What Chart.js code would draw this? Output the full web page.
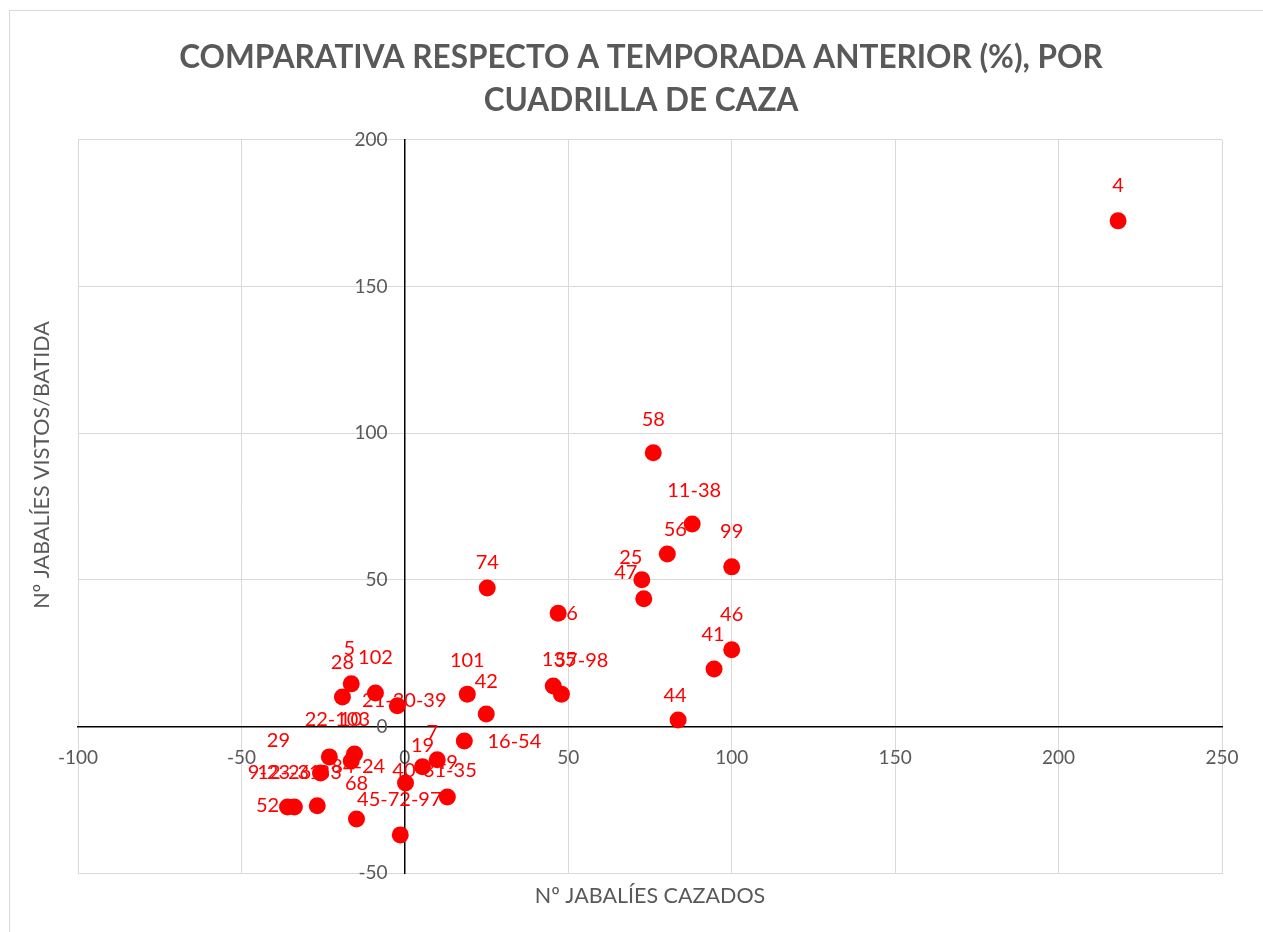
<!DOCTYPE html>
<html><head><meta charset="utf-8">
<script src="https://cdn.jsdelivr.net/npm/chart.js@4.4.0/dist/chart.umd.min.js"></script>
<style>
html,body{margin:0;padding:0;background:#fff;overflow:hidden}
#wrap{position:relative;width:1263px;height:932px;overflow:hidden}
#frame{position:absolute;left:9px;top:10px;width:1400px;height:1200px;border:1px solid #d9d9d9;box-sizing:border-box}
canvas{position:absolute;left:0;top:0}
</style></head><body>
<div id="wrap"><div id="frame"></div><canvas id="c" width="1263" height="932"></canvas></div>
<script>
// ---- data ----
const cuadrillas = ['4','58','11-38','56','99','25','47','74','6','46','41','135','57-98','44','101','42','16-54','7','19','40-31-35','49','45-72-97','68','5','28','102','21-30-39','22-103','10','84-24','12-26-33','9-23-31','29','52'];
const cazados = [218.2,76.0,87.9,80.3,100,72.5,73.1,25.2,46.9,100,94.6,45.4,47.9,83.6,19.1,24.9,18.2,9.9,5.4,0.2,13.0,-1.4,-14.8,-16.4,-19.1,-9.0,-2.3,-23.1,-15.4,-16.4,-25.8,-26.8,-33.8,-35.9];
const vistos = [172.4,93.3,69.0,58.8,54.4,50.0,43.5,47.2,38.6,26.1,19.6,13.8,11.0,2.2,11.0,4.2,-5.0,-11.4,-13.8,-19.3,-24.1,-37.0,-31.6,14.5,10.0,11.4,7.0,-10.4,-9.4,-11.8,-15.9,-27.1,-27.5,-27.5];
const xMin = -100, xMax = 250, xStep = 50;
const yMin = -50, yMax = 200, yStep = 50;
const titleLines = ['COMPARATIVA RESPECTO A TEMPORADA ANTERIOR (%), POR', 'CUADRILLA DE CAZA'];
const xTitle = 'Nº JABALÍES CAZADOS';
const yTitle = 'Nº JABALÍES VISTOS/BATIDA';

// ---- label placement (pixel offsets from each marker) ----
const labelOffsets = [[0,-35],[0,-33],[2,-34],[8,-24],[0,-35],[-11,-22],[-18,-26],[0,-25],[14,0],[0,-35],[-1,-34],[6,-26],[20,-34],[-3,-24],[0,-34],[0,-33],[50,0],[-5,-27],[0,-21],[29,-12],[-1,-35],[-1,-35],[0,-35],[-2,-35],[0,-35],[0,-35],[7,-5],[8,-37],[-4,-34],[7,6],[-21,0],[-33,-33],[-16,-66],[-20,-1]];

const GRID = '#d9d9d9', TXT = '#595959', RED = '#ff0000';
const FONT = 'Lato';

const pointLabels = {
  id: 'pointLabels',
  beforeDatasetsDraw(chart) {
    const meta = chart.getDatasetMeta(0);
    const ctx = chart.ctx;
    ctx.save();
    ctx.font = '20px ' + FONT;
    ctx.fillStyle = RED;
    ctx.textAlign = 'center';
    ctx.textBaseline = 'middle';
    meta.data.forEach((pt, i) => {
      const o = labelOffsets[i] || [0, -35];
      ctx.fillText(cuadrillas[i], pt.x + o[0], pt.y + o[1]);
    });
    ctx.restore();
  }
};

// y-axis title, placed as in the reference (a little above the plot's centre)
const yAxisTitle = {
  id: 'yAxisTitle',
  afterDraw(chart) {
    const ctx = chart.ctx;
    ctx.save();
    ctx.translate(42, 465);
    ctx.rotate(-Math.PI / 2);
    ctx.font = '21.5px ' + FONT;
    ctx.fillStyle = TXT;
    ctx.textAlign = 'center';
    ctx.textBaseline = 'middle';
    ctx.fillText(yTitle, 0, 0);
    ctx.restore();
  }
};

const gridColor = c => (c.tick && c.tick.value === 0) ? 'rgba(0,0,0,0)' : GRID;

new Chart(document.getElementById('c'), {
  type: 'scatter',
  data: {
    datasets: [{
      data: cazados.map((x, i) => ({x, y: vistos[i]})),
      backgroundColor: RED,
      borderWidth: 0,
      pointRadius: 8.5,
      pointHoverRadius: 8.5
    }]
  },
  plugins: [pointLabels, yAxisTitle],
  options: {
    responsive: false,
    animation: false,
    devicePixelRatio: 1,
    layout: { padding: { left: 60, right: 41, top: 0, bottom: 21.1 } },
    plugins: {
      legend: { display: false },
      tooltip: { enabled: false },
      title: {
        display: true, text: titleLines, color: TXT,
        font: { family: FONT, size: 31.5, weight: 'bold', lineHeight: 1.38 },
        padding: { top: 36, bottom: 17 }
      }
    },
    scales: {
      x: {
        type: 'linear', position: 'bottom', min: xMin, max: xMax,
        ticks: { display: false, stepSize: xStep },
        grid: { color: gridColor, lineWidth: 1, drawTicks: false },
        border: { color: GRID, width: 1 },
        title: { display: true, text: xTitle, color: TXT, font: { family: FONT, size: 21.5, lineHeight: 1.2 }, padding: { top: 10.1, bottom: 2 } }
      },
      y: {
        type: 'linear', position: 'left', min: yMin, max: yMax,
        ticks: { display: false, stepSize: yStep },
        grid: { color: gridColor, lineWidth: 1, drawTicks: false },
        border: { color: GRID, width: 1 },
        afterFit(scale) { scale.width = 18; }
      },
      xZero: {
        type: 'linear', axis: 'x', position: { y: 0 }, min: xMin, max: xMax,
        ticks: { stepSize: xStep, color: TXT, font: { family: FONT, size: 19 }, padding: 20, maxRotation: 0 },
        grid: { display: false, drawTicks: false },
        border: { display: true, color: '#000', width: 1.5 }
      },
      yZero: {
        type: 'linear', axis: 'y', position: { x: 0 }, min: yMin, max: yMax,
        ticks: { display: false, stepSize: yStep },
        grid: { display: false, drawTicks: false },
        border: { display: true, color: '#000', width: 1.5 }
      },
      yLabels: {
        type: 'linear', axis: 'y', position: { x: -5.3 }, min: yMin, max: yMax,
        ticks: { stepSize: yStep, color: TXT, font: { family: FONT, size: 19 } },
        grid: { display: false, drawTicks: false },
        border: { display: false }
      }
    }
  }
});
</script>
</body></html>
